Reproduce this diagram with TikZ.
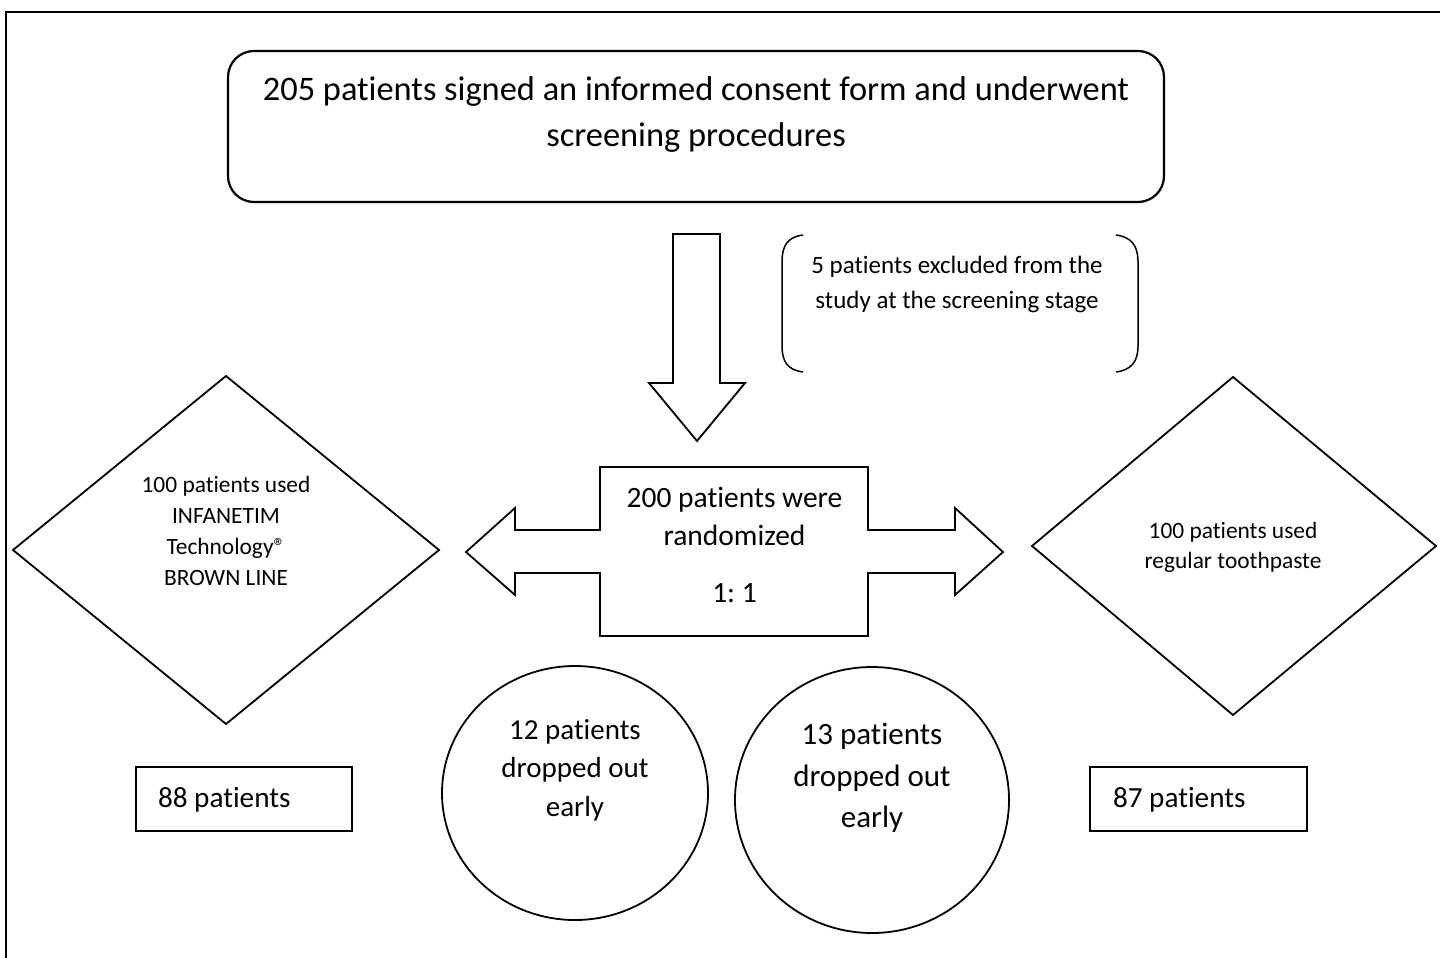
\documentclass[tikz,border=0pt]{standalone}
\usepackage{fontspec}
\setmainfont{Carlito}[Ligatures={NoCommon,NoContextual,NoRequired},Contextuals={NoAlternate}]
\frenchspacing
\begin{document}
\begin{tikzpicture}[x=1pt,y=-1pt,line width=2pt,line join=miter,
  shape line/.style={draw=black,line width=1.8pt},
  txt/.style={align=center,inner sep=0pt},
  fbig/.style={font=\fontsize{34.4}{46}\selectfont},
  fmid/.style={font=\fontsize{29.5}{38}\selectfont},
  fsmall/.style={font=\fontsize{23.4}{31}\selectfont},
  fbr/.style={font=\fontsize{25}{35}\selectfont}]
\useasboundingbox (0,0) rectangle (1440,958);
\fill[white] (0,0) rectangle (1440,958);
% outer frame
\draw[line width=2.2pt] (6,958) -- (6,12) -- (1440,12);

% top rounded box
\draw[shape line,line width=2.2pt,rounded corners=26] (228,51) rectangle (1164,202);
\node[txt,fbig] (screen) at (696,115) {205 patients signed an informed consent form and underwent\\screening procedures};

% down block arrow
\draw[shape line] (673,234) -- (720,234) -- (720,383) -- (745,383) -- (697,441) -- (649,383) -- (673,383) -- cycle;

% bracket text
\draw[shape line,line width=1.5pt] (803,235) .. controls (788,237) and (782,245) .. (782,262) -- (782,346) .. controls (782,362) and (788,370) .. (803,372);
\draw[shape line,line width=1.5pt] (1116,235) .. controls (1131,237) and (1138,245) .. (1138,262) -- (1138,346) .. controls (1138,362) and (1131,370) .. (1116,372);
\node[txt,fbr] (excl) at (957,284.5) {5 patients excluded from the\\study at the screening stage};

% central double block arrow
\draw[shape line] (600,467) -- (868,467) -- (868,530) -- (955,530) -- (955,508) -- (1003,552) -- (955,595) -- (955,573) -- (868,573) -- (868,636) -- (600,636) -- (600,573) -- (515,573) -- (515,595) -- (466,552) -- (515,508) -- (515,530) -- (600,530) -- cycle;
\node[txt,fmid] (rand) at (734.5,516) {200 patients were\\randomized};
\node[txt,fmid] (ratio) at (734.5,593) {1: 1};

% diamonds
\draw[shape line] (226,376) -- (439,550) -- (226,724) -- (13,550) -- cycle;
\node[txt,fsmall] (groupA) at (226,531) {100 patients used\\INFANETIM\\Technology®\\BROWN LINE};
\draw[shape line] (1233,377) -- (1436,546) -- (1233,715) -- (1032,546) -- cycle;
\node[txt,font=\fontsize{23.4}{30}\selectfont] (groupB) at (1233,547) {100 patients used\\regular toothpaste};

% circles
\draw[shape line] (575,793) ellipse [x radius=133, y radius=127];
\node[txt,font=\fontsize{29}{38.5}\selectfont] (dropA) at (575,770) {12 patients\\dropped out\\early};
\draw[shape line] (872,800) ellipse [x radius=137, y radius=133];
\node[txt,font=\fontsize{31}{41.5}\selectfont] (dropB) at (872,778) {13 patients\\dropped out\\early};

% result boxes
\draw[shape line] (136,767) rectangle (352,831);
\node[inner sep=0pt,anchor=base west,font=\fontsize{29.2}{35}\selectfont] (resA) at (157,807) {88 patients};
\draw[shape line] (1090,767) rectangle (1307,831);
\node[inner sep=0pt,anchor=base west,font=\fontsize{29.2}{35}\selectfont] (resB) at (1112,807) {87 patients};
\end{tikzpicture}
\end{document}
